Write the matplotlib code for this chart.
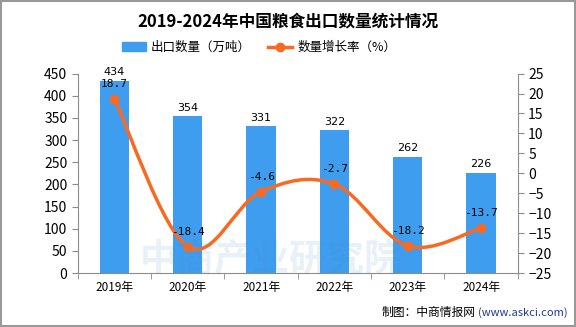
import matplotlib
matplotlib.use("Agg")
import matplotlib.pyplot as plt
import numpy as np
from matplotlib.path import Path
from matplotlib.patches import PathPatch, Rectangle, Patch
from matplotlib.lines import Line2D

plt.rcParams['font.family'] = ['Noto Sans CJK SC', 'DejaVu Sans']

years = ['2019年', '2020年', '2021年', '2022年', '2023年', '2024年']
export_vol = [434, 354, 331, 322, 262, 226]
growth = [18.7, -18.4, -4.6, -2.7, -18.2, -13.7]

bar_color = '#3F9DF0'
line_color = '#F86A22'
axis_gray = '#8C8C8C'

fig = plt.figure(figsize=(5.76, 3.27), dpi=100)
ax = fig.add_axes([0.135, 0.165, 0.764, 0.61])
ax2 = ax.twinx()

x = np.arange(len(years))
ax.bar(x, export_vol, width=0.4, color=bar_color, zorder=2)
ax.set_xlim(-0.5, len(years) - 0.5)
ax.set_ylim(0, 450)
ax.set_yticks(range(0, 451, 50))
for xi, v in zip(x, export_vol):
    ax.text(xi, v + 8, str(v), ha='center', va='bottom', fontsize=8, family='DejaVu Sans')

# smooth line via Catmull-Rom -> Bezier
pts = np.column_stack([x, growth]).astype(float)
verts = [tuple(pts[0])]
codes = [Path.MOVETO]
n = len(pts)
t = 0.35
for i in range(n - 1):
    p0 = pts[i - 1] if i > 0 else pts[i]
    p1 = pts[i]
    p2 = pts[i + 1]
    p3 = pts[i + 2] if i + 2 < n else pts[i + 1]
    c1 = p1 + (p2 - p0) * t / 2
    c2 = p2 - (p3 - p1) * t / 2
    verts += [tuple(c1), tuple(c2), tuple(p2)]
    codes += [Path.CURVE4] * 3
ax2.add_patch(PathPatch(Path(verts, codes), facecolor='none', edgecolor=line_color, lw=2.5, zorder=3))
ax2.plot(x, growth, 'o', color=line_color, ms=6, zorder=4)
ax2.set_ylim(-25, 25)
ax2.set_yticks(range(-25, 26, 5))
ax2.set_yticklabels([str(v).replace('-', '−') for v in range(-25, 26, 5)])
for xi, v in zip(x, growth):
    ax2.text(xi, v + 2.5, f'{v}', ha='center', va='bottom', fontsize=8, family='DejaVu Sans Mono', zorder=5)

handles = [Patch(color=bar_color, label='出口数量（万吨）'),
           Line2D([0], [0], color=line_color, lw=2.5, marker='o', ms=6, label='数量增长率（%）')]
fig.legend(handles=handles, loc='center', bbox_to_anchor=(0.45, 0.855), ncol=2, frameon=False,
           fontsize=9, handlelength=1.9, handletextpad=0.4, columnspacing=1.4)

fig.text(0.5, 0.935, '2019-2024年中国粮食出口数量统计情况', ha='center', va='center',
         fontsize=12, fontweight='bold')
fig.text(0.985 - 0.16, 0.045, '制图：中商情报网', ha='right', va='center', fontsize=8.5, color='black')
fig.text(0.985, 0.045, '(www.askci.com)', ha='right', va='center', fontsize=8, color='#1F3A93')

# watermark
fig.text(0.47, 0.205, '中商产业研究院', ha='center', va='center', fontsize=27, color='#3F8FC0',
         alpha=0.12, fontweight='bold', zorder=0)

for a in (ax, ax2):
    a.spines['top'].set_visible(False)
    for s in ('left', 'right', 'bottom'):
        a.spines[s].set_color(axis_gray)
ax.spines['right'].set_visible(False)
ax2.spines['left'].set_visible(False)
ax2.spines['bottom'].set_visible(False)

ax.set_xticks(x)
ax.set_xticklabels(years, fontsize=8.5)
ax.set_xticks(np.arange(-0.5, len(years), 1), minor=True)
ax.tick_params(axis='x', which='major', length=0, pad=6)
ax.tick_params(axis='x', which='minor', length=4, color=axis_gray)
ax.tick_params(axis='y', length=4, color=axis_gray, labelsize=10)
ax2.tick_params(axis='y', length=4, color=axis_gray, labelsize=10)

fig.add_artist(Rectangle((0.001, 0.002), 0.997, 0.995, transform=fig.transFigure,
                         fill=False, edgecolor='#999999', lw=1.5))

fig.savefig('out.png', dpi=100)
